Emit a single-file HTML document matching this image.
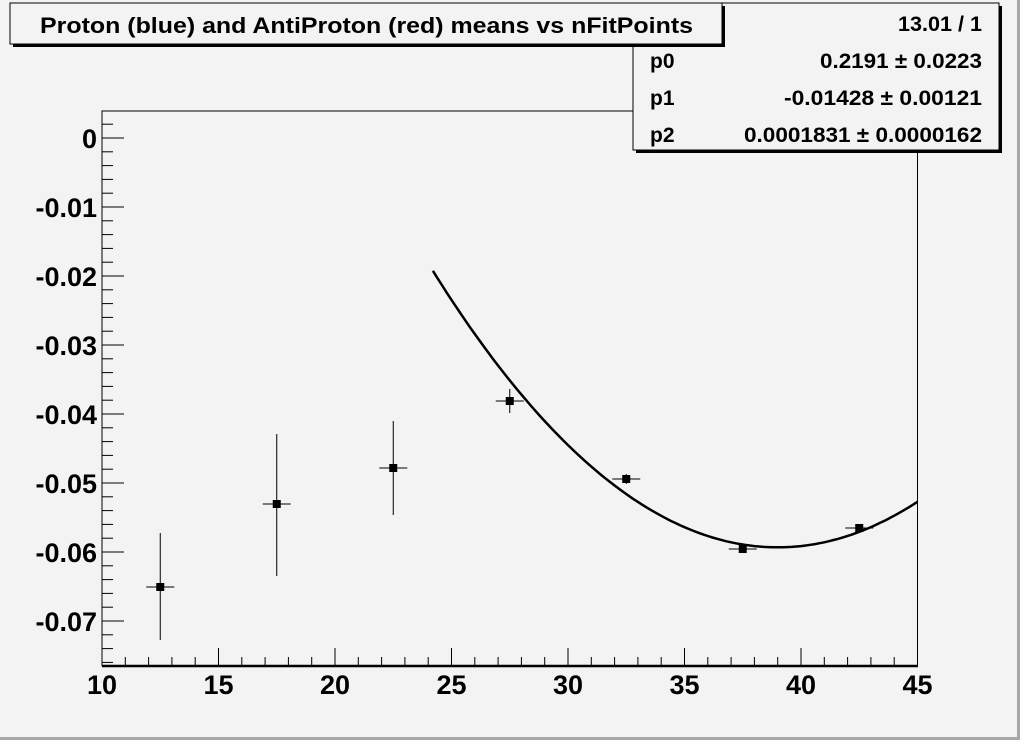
<!DOCTYPE html>
<html><head><meta charset="utf-8"><style>
html,body{margin:0;padding:0;background:#f3f3f3}
svg{display:block}
text{font-family:"Liberation Sans",sans-serif;font-weight:bold;fill:#000}
</style></head><body>
<svg id="s" width="1020" height="740" xmlns="http://www.w3.org/2000/svg">
<rect x="0" y="0" width="1020" height="740" fill="#f3f3f3"/>
<rect x="1017" y="0" width="3" height="740" fill="#a8a8a8"/>
<rect x="0" y="737" width="1020" height="3" fill="#a8a8a8"/>
<rect x="102" y="111" width="815.5" height="554.5" fill="none" stroke="#000" stroke-width="1"/>
<line x1="102" y1="666" x2="918" y2="666" stroke="#000" stroke-width="2.5"/>
<g id="g"></g>
<path id="fit" fill="none" stroke="#000" stroke-width="2.5"/>
<!-- stats box -->
<rect x="636" y="6" width="366" height="147" fill="#000"/>
<rect x="633" y="3" width="366" height="147" fill="#f3f3f3" stroke="#000" stroke-width="1"/>
<text x="982" y="31" font-size="21" text-anchor="end" textLength="84" lengthAdjust="spacingAndGlyphs">13.01 / 1</text>
<text x="650" y="68" font-size="21">p0</text>
<text x="982" y="68" font-size="21" text-anchor="end" textLength="162" lengthAdjust="spacingAndGlyphs">0.2191 ± 0.0223</text>
<text x="650" y="105" font-size="21">p1</text>
<text x="982" y="105" font-size="21" text-anchor="end" textLength="198" lengthAdjust="spacingAndGlyphs">-0.01428 ± 0.00121</text>
<text x="650" y="142" font-size="21">p2</text>
<text x="982" y="142" font-size="21" text-anchor="end" textLength="238" lengthAdjust="spacingAndGlyphs">0.0001831 ± 0.0000162</text>
<!-- title box -->
<rect x="13" y="6" width="712" height="41" fill="#000"/>
<rect x="10" y="3" width="712" height="41" fill="#f3f3f3" stroke="#000" stroke-width="1"/>
<text x="40" y="33" font-size="22" textLength="653" lengthAdjust="spacingAndGlyphs">Proton (blue) and AntiProton (red) means vs nFitPoints</text>
</svg>
<script>
var NS="http://www.w3.org/2000/svg",g=document.getElementById("g");
function X(v){return 102+(v-10)*(815.5/35);}
function Y(v){return 138+(-v)*6900;}
function el(t,a,txt){var e=document.createElementNS(NS,t);for(var k in a)e.setAttribute(k,a[k]);if(txt!=null)e.textContent=txt;g.appendChild(e);return e;}
function ln(x1,y1,x2,y2,w){el("line",{x1:x1,y1:y1,x2:x2,y2:y2,stroke:"#000","stroke-width":w||1});}
for(var v=10;v<=45;v++){var maj=v%5==0;ln(X(v),666,X(v),666-(maj?18:9));
 if(maj)el("text",{x:X(v),y:694,"font-size":"27","text-anchor":"middle"},String(v));}
for(var i=-38;i<=1;i++){var v=i*0.002,maj=i%5==0;var y=Y(v);if(y<111||y>666)continue;ln(102,y,102+(maj?22:11),y);
 if(maj){var s=i==0?"0":(v.toFixed(2));el("text",{x:97,y:y+10,"font-size":"27","text-anchor":"end"},s);}}
var d=[[12.5,587,533,640],[17.5,504,434,576],[22.5,468,421,515],[27.5,401,389,413],[32.5,479,474,484],[37.5,549,545,553],[42.5,528,524,532]];
d.forEach(function(p){var x=X(p[0]);ln(x,p[2],x,p[3]);ln(x-14,p[1],x+14,p[1]);el("rect",{x:x-4,y:p[1]-4,width:8,height:8,fill:"#000"});});
var pts=[];for(var x=24.2;x<=45.001;x+=0.2){var f=0.2191-0.01428*x+0.0001831*x*x;pts.push(X(x).toFixed(1)+","+Y(f).toFixed(1));}
document.getElementById("fit").setAttribute("d","M"+pts.join(" L"));
</script>
</body></html>
